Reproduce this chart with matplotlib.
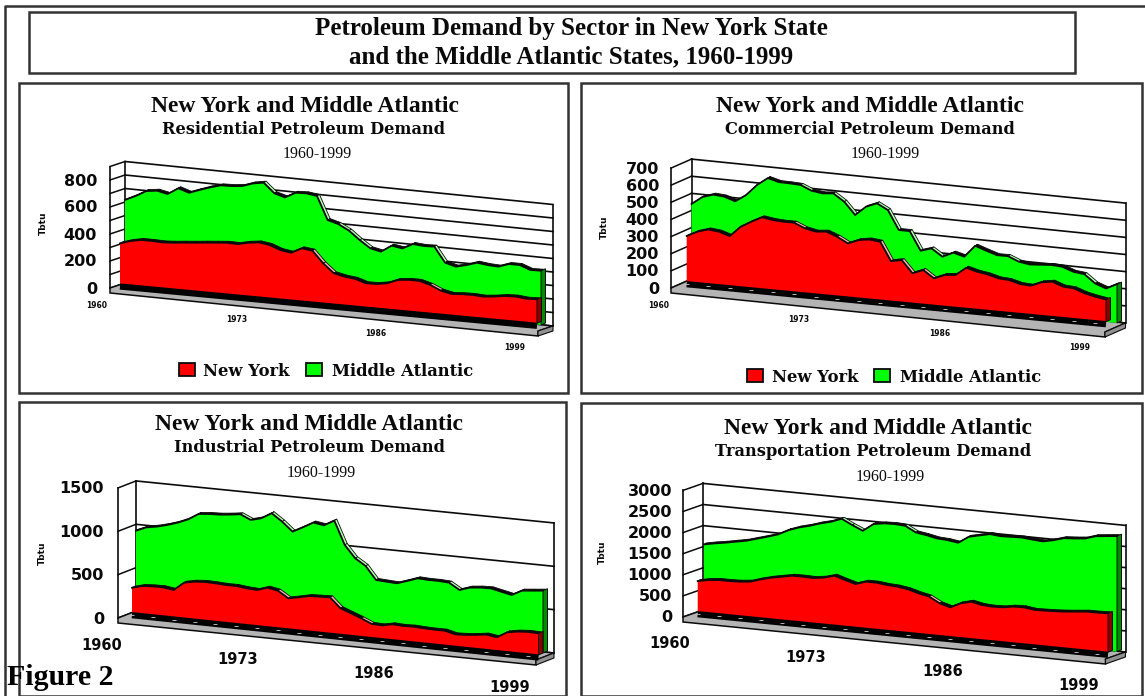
#!/usr/bin/python3
import matplotlib
matplotlib.use('Agg')
import matplotlib.pyplot as plt
from matplotlib.patches import Polygon, Rectangle
from matplotlib.transforms import Affine2D
import numpy as np

years = list(range(1960, 2000))
year_ticks = [1960, 1973, 1986, 1999]

res_ny = [301, 326, 341, 341, 338, 343, 351, 358, 366, 373, 380, 378, 395, 405, 393, 363, 351, 391, 381, 295,
          229, 211, 202, 177, 179, 192, 224, 232, 232, 210, 175, 158, 163, 165, 160, 168, 180, 183, 175, 178]
res_ma = [593, 631, 676, 687, 671, 722, 697, 727, 755, 778, 781, 790, 818, 832, 762, 740, 783, 787, 776, 606,
          585, 545, 484, 431, 415, 468, 456, 497, 491, 495, 385, 364, 384, 410, 401, 398, 426, 427, 399, 402]
com_ny = [267, 298, 317, 310, 290, 350, 386, 418, 408, 404, 404, 377, 364, 370, 346, 313, 339, 348, 341, 234,
          246, 175, 200, 157, 183, 189, 237, 220, 210, 193, 189, 172, 168, 194, 204, 181, 177, 154, 140, 130]
com_ma = [444, 491, 511, 506, 485, 528, 593, 640, 623, 622, 619, 592, 583, 589, 547, 476, 531, 557, 524, 414,
          414, 306, 326, 284, 314, 297, 367, 345, 325, 326, 300, 290, 295, 300, 296, 273, 266, 218, 195, 227]
ind_ny = [288, 320, 329, 330, 312, 409, 433, 442, 439, 432, 433, 419, 412, 451, 429, 353, 377, 405, 410, 415,
          301, 256, 210, 158, 154, 179, 172, 177, 170, 167, 168, 138, 144, 156, 173, 154, 224, 245, 254, 250]
ind_ma = [915, 966, 987, 1019, 1058, 1109, 1184, 1196, 1201, 1214, 1231, 1178, 1210, 1281, 1197, 1094, 1157, 1224, 1205, 1272,
          1004, 863, 787, 638, 631, 625, 665, 708, 702, 703, 696, 624, 664, 677, 681, 655, 630, 693, 705, 718]
tra_ny = [726, 775, 800, 800, 809, 836, 914, 978, 1026, 1074, 1076, 1069, 1103, 1174, 1096, 1026, 1106, 1106, 1076, 1062,
          1023, 953, 900, 766, 695, 815, 879, 825, 810, 818, 860, 868, 832, 839, 848, 865, 889, 914, 915, 924]
tra_ma = [1555, 1604, 1645, 1694, 1743, 1816, 1889, 1969, 2096, 2185, 2250, 2331, 2395, 2491, 2367, 2257, 2441, 2483, 2492, 2477,
          2344, 2305, 2253, 2239, 2201, 2368, 2425, 2482, 2459, 2468, 2478, 2455, 2435, 2490, 2564, 2581, 2606, 2686, 2713, 2739]

RED, GREEN = '#ff0000', '#00ff00'
DARK_RED, DARK_GREEN = '#8c0000', '#008c00'
LIGHT_RED, LIGHT_GREEN = '#ffb0b0', '#b0ffb0'
GRAY = '#b4b4b4'
INK = '#0a0a0a'
SERIF = 'Liberation Serif'
SLAB = 'DejaVu Serif'

# all layout is in picture pixels, the axes below runs 0-1145 / 696-0
panels = [
    dict(name='Residential', ny=res_ny, ma=res_ma, box=(19, 83, 568, 393), k=0.135, grid=100, top=900,
         labels=[0, 200, 400, 600, 800], back=(125, 283, 553, 326), front=(110, 288),
         red=(120, 284, 537, 323.3), green=(125, 280, 541, 325), ylab=(97, 289), tbtu=(43, 223),
         yr=(97, 306, 515, 347), yrsize=5.5, title=(305, 107, 304, 130, 317, 154),
         leg=(179, 306, 369.5, 203, 332, 372)),
    dict(name='Commercial', ny=com_ny, ma=com_ma, box=(581, 83, 1142, 393), k=0.1713, grid=100, top=700,
         labels=[0, 100, 200, 300, 400, 500, 600, 700], back=(691.5, 279, 1125.5, 323), front=(671, 288),
         red=(686.7, 281.7, 1106, 321.7), green=(691.5, 280, 1117, 323), ylab=(659, 289), tbtu=(604, 227),
         yr=(658.5, 306, 1080, 347), yrsize=5.5, title=(870, 107, 870, 130, 885, 154),
         leg=(747, 874, 375, 772, 900, 378)),
    dict(name='Industrial', ny=ind_ny, ma=ind_ma, box=(19, 402, 566, 696), k=0.0867, grid=500, top=1500,
         labels=[0, 500, 1000, 1500], back=(136, 611, 554, 653), front=(118, 618),
         red=(132, 612.7, 538.5, 655), green=(136, 610, 543, 652.9), ylab=(104, 619), tbtu=(42, 553),
         yr=(102, 645, 510, 687), yrsize=10.5, title=(309, 425, 310, 448, 321, 473), leg=None),
    dict(name='Transportation', ny=tra_ny, ma=tra_ma, box=(581, 403, 1142, 696), k=0.0422, grid=500, top=3000,
         labels=[0, 500, 1000, 1500, 2000, 2500, 3000], back=(703, 610, 1125.5, 652), front=(683, 617),
         red=(697.7, 611.7, 1108, 652.3), green=(704, 610, 1117, 651.7), ylab=(672, 618), tbtu=(602, 552),
         yr=(669.5, 643, 1079, 685), yrsize=10.5, title=(878, 429, 873, 452, 890, 477), leg=None),
]

fig = plt.figure(figsize=(11.45, 6.96), dpi=100)
ax = fig.add_axes([0, 0, 1, 1])
ax.set_xlim(0, 1145)
ax.set_ylim(696, 0)
ax.axis('off')


def skew(x0, y0, x1, y1, k):
    # year/value -> picture pixels, the value axis stays vertical
    dx = (x1 - x0) / 39.0
    dy = (y1 - y0) / 39.0
    return Affine2D.from_values(dx, dy, 0, -k, x0 - 1960 * dx, y0 - 1960 * dy)


def frame(x0, y0, x1, y1):
    ax.add_patch(Rectangle((x0, y0), x1 - x0, y1 - y0, fc='none', ec='#333333', lw=1.8, clip_on=False))


def series(values, pos, k, face, dark, light, z):
    tr = skew(pos[0], pos[1], pos[2], pos[3], k)
    top = tr.transform(np.column_stack([years, values]))
    base = tr.transform(np.column_stack([years, np.zeros(len(years))]))
    depth = np.array([2.5, -1.5])
    end = np.array([4.5, -2.0])
    # top ribbon of the 3D area, pale only on the steep drops
    for a, b in zip(top[:-1], top[1:]):
        falling = (b[1] - a[1]) > 0.5 * (b[0] - a[0])
        ax.add_patch(Polygon([a, b, b + depth, a + depth], fc=light if falling else INK, ec=INK, lw=0.6, zorder=z))
    ax.add_patch(Polygon(np.vstack([top, base[::-1]]), fc=face, ec='none', zorder=z + 0.1))
    ax.add_patch(Polygon([top[-1], top[-1] + end, base[-1] + end, base[-1]], fc=dark, ec=INK, lw=0.7, zorder=z + 0.1))
    ax.plot(top[:, 0], top[:, 1], color=INK, lw=1.3, zorder=z + 0.2)
    return base


def draw_panel(p):
    frame(*p['box'])
    k = p['k']
    bx0, by0, bx1, by1 = p['back']
    fx0, fy0 = p['front']
    side_x, side_y = bx0 - fx0, fy0 - by0
    wall = skew(bx0, by0, bx1, by1, k)
    ticks = np.arange(0, p['top'] + p['grid'], p['grid'])

    # back wall and side wall
    for v in ticks:
        pts = wall.transform([[1960, v], [1999, v]])
        ax.plot(pts[:, 0], pts[:, 1], color=INK, lw=1.2, zorder=1)
        ax.plot([pts[0, 0] - side_x, pts[0, 0]], [pts[0, 1] + side_y, pts[0, 1]], color=INK, lw=1.1, zorder=1)
    for x0, x1, y0, y1 in [(bx0, bx0, by0, by0 - k * p['top']), (bx1, bx1, by1, by1 - k * p['top']),
                           (fx0, fx0, fy0, fy0 - k * p['top'])]:
        ax.plot([x0, x1], [y0, y1], color=INK, lw=1.2, zorder=1)

    # floor slab
    drop = 5
    fx1, fy1 = bx1 - side_x, by1 + side_y
    ax.add_patch(Polygon([(fx0, fy0), (bx0, by0), (bx1, by1), (fx1, fy1), (fx1, fy1 + drop), (fx0, fy0 + drop)],
                         fc=GRAY, ec=INK, lw=1.1, zorder=2))
    ax.add_patch(Polygon([(fx1, fy1), (bx1, by1), (bx1, by1 + drop), (fx1, fy1 + drop)], fc='#909090', ec=INK, lw=0.8, zorder=2))

    series(p['ma'], p['green'], k, GREEN, DARK_GREEN, LIGHT_GREEN, 3)
    base = series(p['ny'], p['red'], k, RED, DARK_RED, LIGHT_RED, 4)
    ax.plot(base[:, 0], base[:, 1] + 2.5, color='black', lw=4.5, zorder=5, solid_capstyle='butt')
    if p['name'] != 'Residential':
        ax.plot(base[:, 0][::2], base[:, 1][::2] + 2.5, ls='none', marker='_', ms=2.5, mew=0.7, color=GRAY, zorder=5.1)

    # value labels
    lx, ly = p['ylab']
    for v in p['labels']:
        ax.text(lx, ly - k * v, str(v), ha='right', va='center', fontsize=11.5, fontweight='bold', family='DejaVu Sans', color=INK)
    ax.text(p['tbtu'][0], p['tbtu'][1], 'Tbtu', rotation=90, ha='center', va='center', fontsize=6.5, fontweight='bold',
            family='DejaVu Sans', color=INK)

    # year labels
    yr = skew(p['yr'][0], p['yr'][1], p['yr'][2], p['yr'][3], 0)
    for y in year_ticks:
        px, py = yr.transform([y, 0])
        ax.text(px, py, str(y), ha='center', va='center', fontsize=p['yrsize'], fontweight='bold', family='DejaVu Sans', color=INK)

    # titles
    c1, t1, c2, t2, c3, t3 = p['title']
    ax.text(c1, t1, 'New York and Middle Atlantic', ha='center', va='center', fontsize=17, fontweight='bold', family=SERIF, color=INK)
    ax.text(c2, t2, p['name'] + ' Petroleum Demand', ha='center', va='center', fontsize=11.7, fontweight='bold', family=SLAB, color=INK)
    ax.text(c3, t3, '1960-1999', ha='center', va='center', fontsize=11.5, family=SERIF, color=INK)

    # legend
    if p['leg']:
        rx, gx, sy, tx1, tx2, ty = p['leg']
        ax.add_patch(Rectangle((rx, sy - 6.5), 16, 13, fc=RED, ec=INK, lw=1.3, zorder=3))
        ax.add_patch(Rectangle((gx, sy - 6.5), 16, 13, fc=GREEN, ec=INK, lw=1.3, zorder=3))
        ax.text(tx1, ty, 'New York', ha='left', va='center', fontsize=11.8, fontweight='bold', family=SLAB, color=INK)
        ax.text(tx2, ty, 'Middle Atlantic', ha='left', va='center', fontsize=11.8, fontweight='bold', family=SLAB, color=INK)


# outer rule, title box
ax.plot([5, 5, 1145], [696, 6, 6], color='#333333', lw=1.8)
frame(29, 12, 1075, 73)
ax.text(571, 29, 'Petroleum Demand by Sector in New York State', ha='center', va='center', fontsize=18, fontweight='bold', family=SERIF, color=INK)
ax.text(571, 57, 'and the Middle Atlantic States, 1960-1999', ha='center', va='center', fontsize=18, fontweight='bold', family=SERIF, color=INK)

for p in panels:
    draw_panel(p)

ax.text(7, 685, 'Figure 2', ha='left', va='baseline', fontsize=21.5, fontweight='bold', family=SERIF, color='black', zorder=10)

plt.savefig('out.png', dpi=100)
